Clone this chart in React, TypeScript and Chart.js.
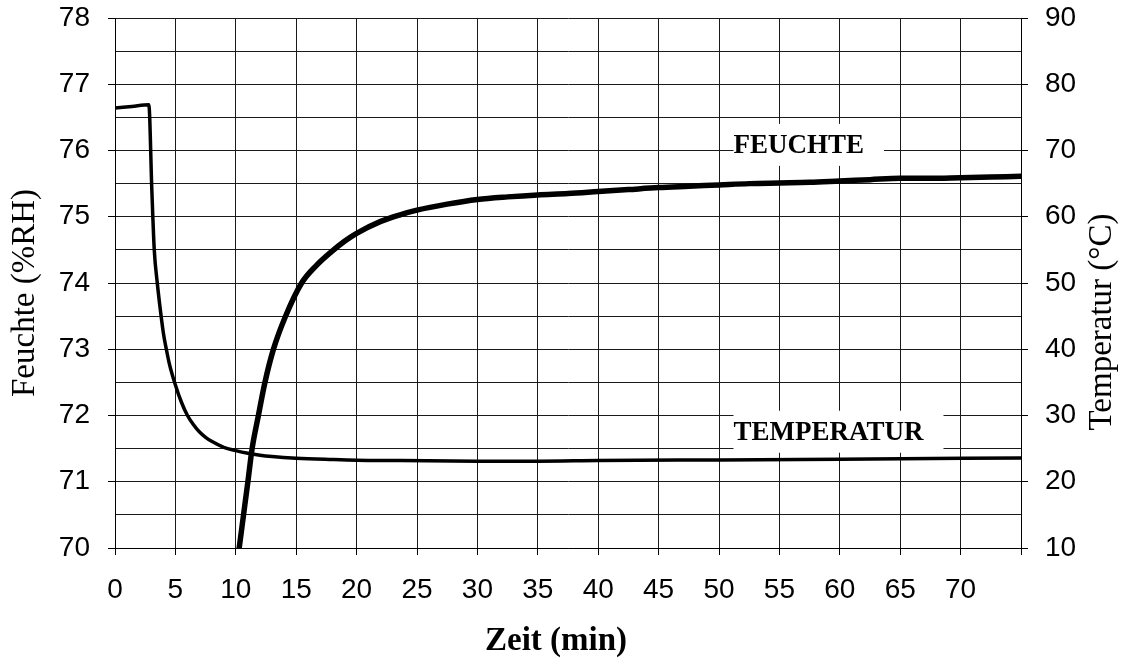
import React, { useEffect, useRef } from 'react';
import { Chart, registerables } from 'chart.js';

Chart.register(...registerables);

// ---- Data ----
const xTickValues = [0, 5, 10, 15, 20, 25, 30, 35, 40, 45, 50, 55, 60, 65, 70, 75];
const xTickLabelMax = 70;

// Feuchte (%RH), left axis
const feuchteTime = [10.28, 11.0, 11.35, 11.87, 12.4, 13.1, 14.1, 15.45, 16.7, 17.9, 19.0, 20.0, 22.0, 23.6, 25.0, 27.5, 30.0, 32.5, 35.0, 37.5, 40.0, 42.5, 45.0, 47.5, 50.0, 52.5, 55.0, 57.5, 60.0, 62.5, 65.0, 67.5, 70.0, 72.5, 75.0];
const feuchteValues = [70.0, 71.0, 71.5, 72.0, 72.49, 72.99, 73.49, 74.0, 74.27, 74.47, 74.63, 74.75, 74.93, 75.03, 75.1, 75.19, 75.26, 75.3, 75.33, 75.35, 75.38, 75.41, 75.44, 75.46, 75.48, 75.5, 75.51, 75.52, 75.54, 75.56, 75.58, 75.58, 75.59, 75.6, 75.61];

// Temperatur (°C), right axis
const tempTime = [0, 1.4, 2.8, 3.05, 3.25, 3.5, 3.75, 4.0, 4.25, 4.5, 5.0, 5.5, 6.0, 6.5, 7.0, 7.5, 8.0, 9.0, 10.0, 11.0, 12.0, 13.0, 15.0, 18.0, 20.0, 23.6, 30.0, 35.0, 40.0, 50.0, 60.0, 75.0];
const tempValues = [76.4, 76.65, 76.9, 64.0, 55.0, 50.0, 46.0, 42.5, 40.0, 37.8, 34.6, 32.0, 30.0, 28.6, 27.5, 26.7, 26.1, 25.2, 24.7, 24.3, 24.0, 23.8, 23.55, 23.35, 23.25, 23.2, 23.1, 23.1, 23.2, 23.3, 23.4, 23.6];

// Curve labels (positions in data units: minutes / %RH)
const curveLabelTexts = ['FEUCHTE', 'TEMPERATUR'];
const curveLabelX = [51.2, 51.2];
const curveLabelY = [76.1, 71.77];

const SANS = '"Liberation Sans", Arial, sans-serif';
const SERIF = '"Liberation Serif", "Times New Roman", serif';

const curveLabelPlugin = {
  id: 'curveLabels',
  beforeDatasetsDraw(chart: any) {
    const { ctx, scales } = chart;
    const xs = scales.x;
    const ys = scales.y;
    ctx.save();
    ctx.font = `bold 27px ${SERIF}`;
    ctx.textAlign = 'left';
    ctx.textBaseline = 'alphabetic';
    curveLabelTexts.forEach((txt, i) => {
      const left = xs.getPixelForValue(curveLabelX[i]);
      const cy = ys.getPixelForValue(curveLabelY[i]);
      const w = ctx.measureText(txt).width;
      ctx.fillStyle = '#ffffff';
      ctx.fillRect(left, cy - 20, w + 20, 42);
      ctx.fillStyle = '#000000';
      ctx.fillText(txt, left, cy + 9);
    });
    ctx.restore();
  },
};

const axisTitlesPlugin = {
  id: 'axisTitles',
  afterDraw(chart: any) {
    const { ctx, chartArea } = chart;
    const midY = (chartArea.top + chartArea.bottom) / 2;
    ctx.save();
    ctx.fillStyle = '#000';
    ctx.textAlign = 'center';
    ctx.textBaseline = 'middle';
    // left title
    ctx.save();
    ctx.font = `33px ${SERIF}`;
    ctx.translate(chartArea.left - 90, midY + 10);
    ctx.rotate(-Math.PI / 2);
    ctx.fillText('Feuchte (%RH)', 0, 0);
    ctx.restore();
    // right title
    ctx.save();
    ctx.font = `33px ${SERIF}`;
    ctx.translate(chartArea.right + 81, midY + 39);
    ctx.rotate(-Math.PI / 2);
    ctx.fillText('Temperatur (°C)', 0, 0);
    ctx.restore();
    // bottom title
    ctx.font = `bold 33px ${SERIF}`;
    ctx.fillText('Zeit (min)', (chartArea.left + chartArea.right) / 2 - 12, chartArea.bottom + 93);
    ctx.restore();
  },
};

const noScalePadding = (s: any) => {
  s.paddingTop = 0;
  s.paddingBottom = 0;
  s.paddingLeft = 0;
  s.paddingRight = 0;
};

export default function App() {
  const ref = useRef<HTMLCanvasElement | null>(null);

  useEffect(() => {
    document.body.style.margin = '0';
    const canvas = ref.current;
    if (!canvas) return;
    const chart = new Chart(canvas, {
      type: 'line',
      data: {
        datasets: [
          {
            label: 'Feuchte',
            data: feuchteTime.map((t, i) => ({ x: t, y: feuchteValues[i] })),
            yAxisID: 'y',
            borderColor: '#000',
            borderWidth: 5.5,
            pointRadius: 0,
            fill: false,
            cubicInterpolationMode: 'monotone',
            borderCapStyle: 'round',
            borderJoinStyle: 'round',
            clip: 0,
          },
          {
            label: 'Temperatur',
            data: tempTime.map((t, i) => ({ x: t, y: tempValues[i] })),
            yAxisID: 'y2',
            borderColor: '#000',
            borderWidth: 3.5,
            pointRadius: 0,
            fill: false,
            cubicInterpolationMode: 'monotone',
            borderJoinStyle: 'round',
            clip: 0,
          },
        ],
      },
      options: {
        animation: false,
        responsive: false,
        devicePixelRatio: 1,
        layout: { padding: { top: 18, left: 0, right: 0, bottom: 0 } },
        plugins: {
          legend: { display: false },
          tooltip: { enabled: false },
        },
        scales: {
          x: {
            type: 'linear',
            position: 'bottom',
            min: 0,
            max: 75,
            afterBuildTicks: (s: any) => {
              s.ticks = xTickValues.map((v) => ({ value: v }));
            },
            ticks: {
              autoSkip: false,
              maxRotation: 0,
              padding: 18,
              color: '#000',
              font: { family: SANS, size: 28 },
              callback: (v: any) => (Number(v) <= xTickLabelMax ? String(v) : ''),
            },
            grid: { color: '#1a1a1a', lineWidth: 1, tickLength: 7, tickColor: '#000' },
            border: { color: '#000', width: 1 },
            title: { display: false },
            afterFit: (s: any) => {
              s.height = 115;
              noScalePadding(s);
            },
          },
          y: {
            type: 'linear',
            position: 'left',
            min: 70,
            max: 78,
            ticks: {
              stepSize: 0.5,
              autoSkip: false,
              padding: 18,
              color: '#000',
              font: { family: SANS, size: 28 },
              callback: (v: any) => (Number.isInteger(Number(v)) ? String(v) : ''),
            },
            grid: {
              color: '#1a1a1a',
              lineWidth: 1,
              tickLength: 7,
              tickColor: (c: any) => (c.tick && Number.isInteger(c.tick.value) ? '#000' : 'rgba(0,0,0,0)'),
            },
            border: { color: '#000', width: 1 },
            title: { display: false },
            afterFit: (s: any) => {
              s.width = 115;
              noScalePadding(s);
            },
          },
          y2: {
            type: 'linear',
            position: 'right',
            min: 10,
            max: 90,
            ticks: {
              stepSize: 10,
              autoSkip: false,
              padding: 17,
              color: '#000',
              font: { family: SANS, size: 28 },
            },
            grid: { drawOnChartArea: false, tickLength: 7, tickColor: '#000', lineWidth: 1 },
            border: { color: '#000', width: 1 },
            afterFit: (s: any) => {
              s.width = 100;
              noScalePadding(s);
            },
          },
        },
      },
      plugins: [curveLabelPlugin, axisTitlesPlugin],
    } as any);
    return () => chart.destroy();
  }, []);

  return (
    <div style={{ width: 1121, height: 663, background: '#fff' }}>
      <canvas ref={ref} width={1121} height={663} style={{ width: 1121, height: 663, display: 'block' }} />
    </div>
  );
}
